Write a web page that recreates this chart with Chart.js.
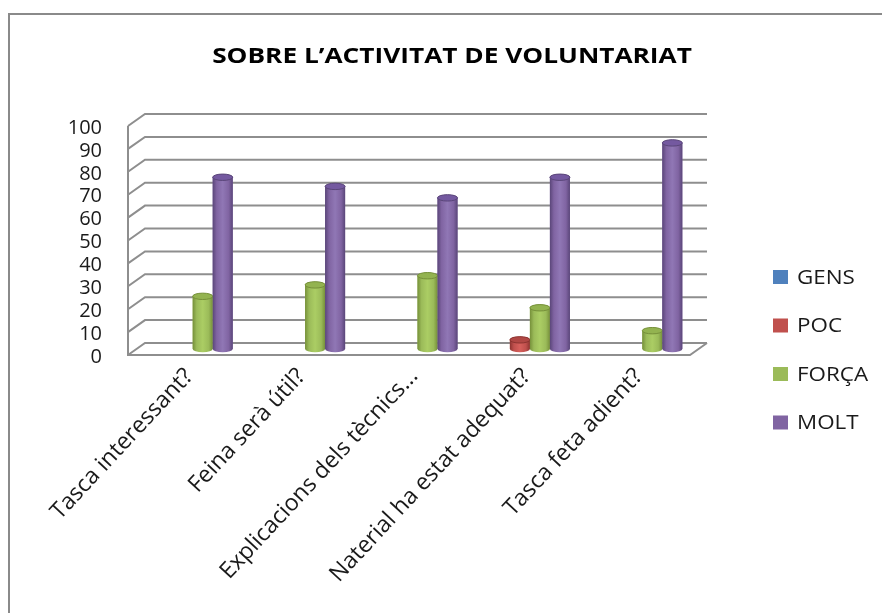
<!DOCTYPE html>
<html>
<head>
<meta charset="utf-8">
<title>Sobre l'activitat de voluntariat</title>
<script src="https://cdn.jsdelivr.net/npm/chart.js@4.4.0/dist/chart.umd.min.js"></script>
<style>
  html, body { margin: 0; padding: 0; background: #fff; overflow: hidden; }
  #marc { position: absolute; left: 8px; top: 13px; width: 900px; height: 640px; border: 2px solid #8a8a8a; }
  #caixa { position: absolute; left: 0; top: 0; width: 882px; height: 613px; }
</style>
</head>
<body>
<div id="marc"></div>
<div id="caixa"><canvas id="grafic" width="882" height="613"></canvas></div>
<script>
// preguntes de l'enquesta i respostes (%)
var preguntes = ["Tasca interessant?", "Feina serà útil?", "Explicacions dels tècnics...", "Naterial ha estat adequat?", "Tasca feta adient?"];
var gens  = [0, 0, 0, 0, 0];
var poc   = [0, 0, 0, 4, 0];
var forca = [23, 28, 32, 18, 8];
var molt  = [75, 71, 66, 75, 90];
var escalaY = [0, 10, 20, 30, 40, 50, 60, 70, 80, 90, 100];

var titol = "SOBRE L\u2019ACTIVITAT DE VOLUNTARIAT";
var lletra = "'Open Sans', sans-serif";

// colors de cada serie: pla, vora fosca, llum, tapa
var colors = [
  { pla: "#4f81bd", vora: "#34598a", llum: "#6b98d0", tapa: "#4877b0" },
  { pla: "#c0504d", vora: "#8c3330", llum: "#d7605c", tapa: "#b04744" },
  { pla: "#9bbb59", vora: "#76903a", llum: "#abcd64", tapa: "#93b350" },
  { pla: "#8064a2", vora: "#5a4679", llum: "#9077b5", tapa: "#7459a0" }
];

var DX = 17, DY = 12;   // profunditat de la caixa 3D

function cilindre(ctx, x, dalt, baix, w, c) {
  var r = w / 2, ry = 3.2;
  var g = ctx.createLinearGradient(x - r, 0, x + r, 0);
  g.addColorStop(0, c.vora);
  g.addColorStop(0.2, c.pla);
  g.addColorStop(0.5, c.llum);
  g.addColorStop(0.8, c.pla);
  g.addColorStop(1, c.vora);
  ctx.fillStyle = g;
  ctx.beginPath();
  ctx.moveTo(x - r, dalt);
  ctx.lineTo(x - r, baix);
  ctx.ellipse(x, baix, r, ry, 0, Math.PI, 0, true);
  ctx.lineTo(x + r, dalt);
  ctx.ellipse(x, dalt, r, ry, 0, 0, Math.PI, true);
  ctx.closePath();
  ctx.fill();
  ctx.beginPath();
  ctx.ellipse(x, dalt, r, ry, 0, 0, Math.PI * 2);
  ctx.fillStyle = c.tapa;
  ctx.fill();
  ctx.lineWidth = 1;
  ctx.strokeStyle = c.vora;
  ctx.stroke();
}

// text una mica eixamplat horitzontalment
function textAmple(ctx, text, x, y, sx) {
  ctx.save();
  ctx.translate(x, y);
  ctx.scale(sx, 1);
  ctx.fillText(text, 0, 0);
  ctx.restore();
}

var caixa3d = {
  id: "caixa3d",
  beforeDatasetsDraw: function (chart) {
    var ctx = chart.ctx, ys = chart.scales.y, a = chart.chartArea;
    ctx.save();
    ctx.strokeStyle = "#8e8e8e";
    ctx.lineWidth = 2;
    escalaY.forEach(function (v) {
      var y = ys.getPixelForValue(v);
      ctx.beginPath();
      ctx.moveTo(a.left, y);
      ctx.lineTo(a.left + DX, y - DY);
      ctx.lineTo(a.right + DX, y - DY);
      ctx.stroke();
    });
    var y0 = ys.getPixelForValue(0);
    ctx.beginPath();
    ctx.moveTo(a.left, ys.getPixelForValue(100));
    ctx.lineTo(a.left, y0);
    ctx.lineTo(a.right, y0);
    ctx.lineTo(a.right + DX, y0 - DY);
    ctx.stroke();
    ctx.restore();
    // columnes a mitja profunditat
    ctx.save();
    ctx.translate(DX / 2, -DY / 2);
  },
  afterDatasetsDraw: function (chart) {
    var ctx = chart.ctx;
    chart.data.datasets.forEach(function (ds, i) {
      var meta = chart.getDatasetMeta(i);
      meta.data.forEach(function (bar, j) {
        if (!ds.data[j]) return;
        cilindre(ctx, bar.x, bar.y, bar.base, bar.width, colors[i]);
      });
    });
    ctx.restore();
  },
  afterDraw: function (chart) {
    var ctx = chart.ctx;
    ctx.save();
    ctx.fillStyle = "#000";
    ctx.font = "bold 21px " + lletra;
    ctx.textAlign = "center";
    ctx.textBaseline = "middle";
    textAmple(ctx, titol, 452, 57, 1.25);
    // llegenda
    ctx.font = "20px " + lletra;
    ctx.textAlign = "left";
    chart.data.datasets.forEach(function (ds, i) {
      var cy = 277 + i * 48.5;
      ctx.fillStyle = colors[i].pla;
      ctx.fillRect(773, cy - 7, 15, 14);
      ctx.fillStyle = "#1a1a1a";
      textAmple(ctx, ds.label, 797, cy + 1, 1.12);
    });
    ctx.restore();
  }
};

new Chart(document.getElementById("grafic"), {
  type: "bar",
  data: {
    labels: preguntes,
    datasets: [
      { label: "GENS",  data: gens,  backgroundColor: colors[0].pla },
      { label: "POC",   data: poc,   backgroundColor: colors[1].pla },
      { label: "FORÇA", data: forca, backgroundColor: colors[2].pla },
      { label: "MOLT",  data: molt,  backgroundColor: colors[3].pla }
    ]
  },
  options: {
    responsive: false,
    animation: false,
    devicePixelRatio: 1,
    layout: { padding: { top: 126, right: 192, left: 0, bottom: 0 } },
    datasets: { bar: { categoryPercentage: 0.712, barPercentage: 1 } },
    plugins: { legend: { display: false }, title: { display: false }, tooltip: { enabled: false } },
    scales: {
      x: {
        grid: { display: false, drawTicks: false },
        border: { display: false },
        afterFit: function (s) { s.height = 258; },
        ticks: {
          autoSkip: false, maxRotation: 47, minRotation: 47,
          padding: 8, labelOffset: 5,
          color: "#1a1a1a", font: { family: lletra, size: 23 }
        }
      },
      y: {
        min: 0, max: 100,
        grid: { display: false, drawTicks: false },
        border: { display: false },
        afterFit: function (s) { s.width = 128; },
        afterBuildTicks: function (s) { s.ticks = escalaY.map(function (v) { return { value: v }; }); },
        ticks: { autoSkip: false, padding: 26, labelOffset: 2, color: "#1a1a1a", font: { family: lletra, size: 20 } }
      }
    }
  },
  plugins: [caixa3d]
});
</script>
</body>
</html>
